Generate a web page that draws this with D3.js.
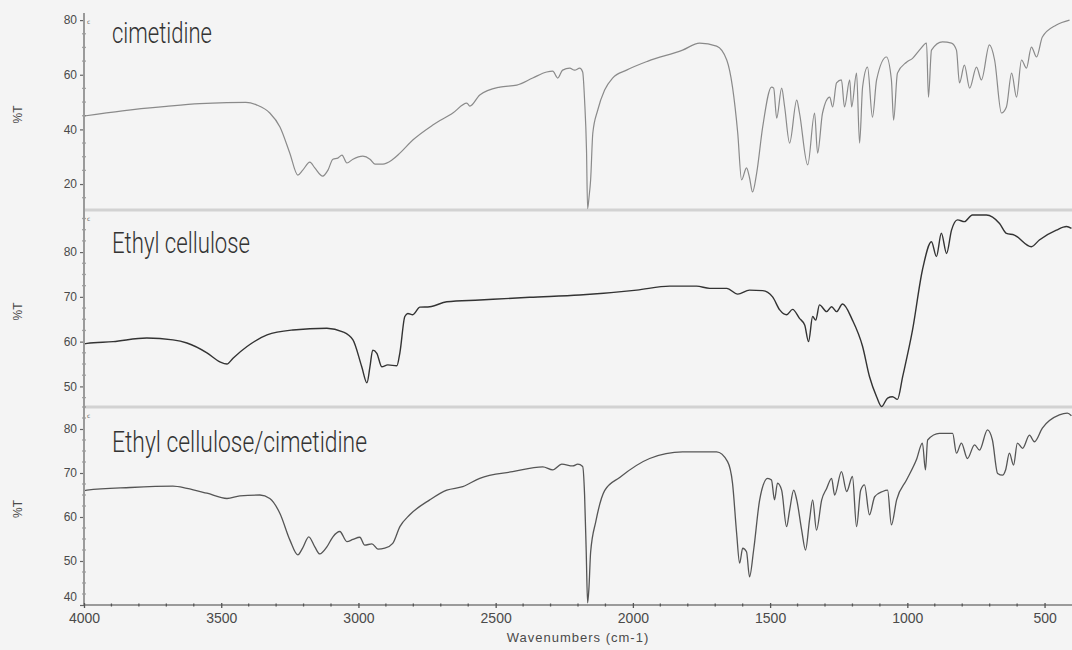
<!DOCTYPE html>
<html>
<head>
<meta charset="utf-8">
<script src="https://cdn.jsdelivr.net/npm/d3@7"></script>
<style>
  html, body { margin: 0; padding: 0; background: #f4f4f4; }
  svg { display: block; }
</style>
</head>
<body>
<svg id="chart" width="1072" height="650"></svg>
<script>
// ---- data -------------------------------------------------------------
const panelTitles = ["cimetidine", "Ethyl cellulose", "Ethyl cellulose/cimetidine"];
const xTickValues = [4000, 3500, 3000, 2500, 2000, 1500, 1000, 500];
const yTickValues = [[20, 40, 60, 80], [50, 60, 70, 80], [40, 50, 60, 70, 80]];
const yMinorSteps = [5, 2.5, 2.5];
const yDomains = [[10.5, 82.6], [45.4, 89.4], [40, 85]];
const xLabel = "Wavenumbers (cm-1)";
const yLabel = "%T";

// [wavenumber (cm-1), transmittance (%)]
const cimetidine = [
  [4000,44.9],[3860,46.8],[3700,48.4],[3578,49.4],[3480,49.8],[3410,49.9],[3370,48.9],[3323,46.0],
  [3286,40.9],[3250,31.3],[3221,23.3],[3203,25.1],[3177,28.0],[3159,25.9],[3130,22.9],[3111,25.1],
  [3093,29.1],[3075,29.5],[3060,30.6],[3042,27.7],[3020,29.1],[2984,30.2],[2958,29.1],[2940,27.3],
  [2911,27.3],[2878,28.8],[2849,31.3],[2802,36.1],[2729,41.6],[2656,46.0],[2605,49.6],[2594,48.5],
  [2558,52.6],[2485,55.5],[2423,56.2],[2365,58.8],[2314,61.0],[2292,61.3],[2274,58.8],[2256,61.7],
  [2230,62.4],[2212,61.7],[2194,62.4],[2183,61.0],[2176,50.7],[2169,32.4],[2165,11.0],[2160,15.0],
  [2154,21.5],[2146,38.7],[2128,47.1],[2103,54.4],[2074,58.8],[2023,61.7],[1945,65.0],[1819,69.0],
  [1757,71.6],[1695,70.5],[1658,65.4],[1637,55.5],[1618,38.7],[1604,21.5],[1586,25.9],[1575,22.3],
  [1564,17.1],[1549,24.0],[1527,40.9],[1495,55.5],[1487,55.1],[1476,44.1],[1458,55.1],[1447,48.2],
  [1429,35.0],[1403,50.7],[1393,46.0],[1363,27.0],[1338,46.0],[1327,31.3],[1309,46.0],[1283,51.8],
  [1272,48.2],[1258,57.0],[1240,58.1],[1229,48.2],[1210,58.1],[1203,48.2],[1185,60.6],[1174,35.0],
  [1163,55.5],[1145,62.8],[1127,44.5],[1112,58.1],[1076,66.5],[1058,58.1],[1050,43.4],[1036,60.6],
  [1003,64.6],[981,66.0],[956,69.0],[930,71.6],[923,51.8],[912,69.0],[872,72.0],[839,71.6],
  [821,69.0],[810,57.0],[792,63.5],[773,55.1],[748,62.8],[730,58.1],[701,70.9],[682,65.4],
  [657,46.0],[639,48.2],[620,60.6],[602,51.8],[584,65.4],[566,62.4],[548,70.1],[529,66.5],
  [508,73.8],[457,78.2],[409,80.0]
];

const ethylCellulose = [
  [4000,59.5],[3989,59.6],[3894,60.0],[3771,60.8],[3676,60.4],[3625,59.7],[3552,57.5],[3505,55.5],
  [3479,55.0],[3457,56.3],[3406,58.9],[3333,61.5],[3239,62.6],[3115,63.0],[3057,62.2],[3020,60.4],
  [2988,54.4],[2969,50.8],[2958,54.4],[2948,58.1],[2933,57.4],[2915,54.4],[2893,54.8],[2860,54.6],
  [2849,57.5],[2831,65.6],[2820,66.3],[2802,66.0],[2776,67.7],[2740,67.8],[2678,68.9],[2558,69.3],
  [2376,69.9],[2194,70.4],[1986,71.5],[1866,72.4],[1768,72.4],[1720,71.9],[1658,71.9],[1618,70.6],
  [1575,71.5],[1527,71.4],[1491,70.0],[1465,67.1],[1440,66.0],[1418,67.2],[1393,65.2],[1374,63.7],
  [1360,60.0],[1345,65.6],[1334,64.8],[1320,68.2],[1294,66.7],[1276,67.8],[1258,66.7],[1236,68.4],
  [1200,64.8],[1163,58.9],[1138,52.2],[1112,47.7],[1094,45.5],[1072,47.4],[1054,47.7],[1036,47.1],
  [1017,52.2],[981,62.6],[945,76.0],[912,82.3],[894,79.0],[876,84.2],[857,79.7],[839,84.9],
  [817,87.2],[792,86.8],[763,88.3],[712,88.3],[664,86.4],[639,84.2],[610,83.8],[548,81.2],
  [519,82.7],[457,84.9],[420,85.7],[402,85.3]
];

const blend = [
  [4000,66.0],[3989,66.1],[3832,66.7],[3676,67.0],[3625,66.5],[3552,65.4],[3479,64.2],[3432,64.8],
  [3359,65.0],[3323,64.2],[3286,60.8],[3250,54.8],[3221,51.4],[3203,53.0],[3181,55.5],[3159,53.2],
  [3141,51.6],[3115,53.2],[3093,55.5],[3068,56.7],[3042,54.4],[3020,54.9],[2995,55.4],[2977,53.6],
  [2951,53.9],[2929,52.7],[2904,52.9],[2875,54.0],[2849,57.8],[2813,60.5],[2740,63.9],[2678,66.1],
  [2620,66.9],[2558,68.8],[2438,70.3],[2328,71.4],[2292,70.7],[2259,72.0],[2219,71.6],[2201,72.0],
  [2183,71.5],[2176,65.0],[2170,52.0],[2165,40.5],[2160,44.0],[2154,52.0],[2135,59.0],[2103,66.0],
  [2048,69.0],[1939,73.3],[1819,74.8],[1695,74.8],[1655,72.6],[1637,67.7],[1622,56.3],[1611,49.5],
  [1600,52.9],[1586,52.1],[1575,46.4],[1560,52.5],[1538,63.9],[1509,68.8],[1495,68.4],[1484,63.9],
  [1473,67.7],[1458,66.1],[1440,57.8],[1429,61.5],[1414,66.1],[1403,63.9],[1385,57.0],[1371,52.5],
  [1356,59.5],[1345,63.9],[1331,57.0],[1312,63.9],[1294,66.5],[1276,68.8],[1265,65.0],[1240,70.3],
  [1221,65.8],[1200,69.2],[1185,57.8],[1170,66.1],[1156,67.3],[1138,60.5],[1119,64.6],[1090,65.8],
  [1072,66.1],[1058,58.2],[1039,63.9],[1003,68.4],[967,73.0],[945,76.8],[934,70.7],[926,77.5],
  [883,79.0],[835,79.0],[821,74.5],[803,76.8],[781,73.3],[755,76.4],[737,75.2],[708,79.8],
  [690,77.5],[671,69.9],[653,69.5],[642,70.7],[628,74.5],[613,71.8],[599,76.8],[580,75.6],
  [555,78.6],[537,77.1],[508,80.2],[446,83.2],[417,83.6],[402,83.0]
];

const spectra = [cimetidine, ethylCellulose, blend];

// ---- layout & styles --------------------------------------------------
const plotLeft = 84, plotRight = 1072;
const bands = [[13, 210], [210, 407], [407, 605]];
const lineColors = ["#8a8a8a", "#333333", "#555555"];
const lineWidths = [1.2, 1.4, 1.3];
const titleWidths = [100, 138, 255];
const titleBaselines = [43, 253, 452];
const axisColor = "#9a9a9a";
const textColor = "#4a4a4a";

const svg = d3.select("#chart");
svg.append("rect").attr("width", 1072).attr("height", 650).attr("fill", "#f4f4f4");

const x = d3.scaleLinear().domain([4000, 400]).range([plotLeft, plotRight]);

const defs = svg.append("defs");

// panel separators
[bands[0][1], bands[1][1]].forEach(yy => {
  svg.append("line")
    .attr("x1", plotLeft).attr("x2", plotRight)
    .attr("y1", yy).attr("y2", yy)
    .attr("stroke", "#d2d2d2").attr("stroke-width", 3);
});

spectra.forEach((data, i) => {
  const [top, bottom] = bands[i];
  const y = d3.scaleLinear().domain(yDomains[i]).range([bottom, top]);

  defs.append("clipPath").attr("id", "clip" + i)
    .append("rect")
    .attr("x", plotLeft).attr("y", top - 1)
    .attr("width", plotRight - plotLeft).attr("height", bottom - top + 2);

  const line = d3.line()
    .x(d => x(d[0]))
    .y(d => y(d[1]))
    .curve(d3.curveMonotoneX);

  svg.append("path")
    .datum(data)
    .attr("clip-path", `url(#clip${i})`)
    .attr("fill", "none")
    .attr("stroke", lineColors[i])
    .attr("stroke-width", lineWidths[i])
    .attr("stroke-linejoin", "round")
    .attr("d", line);

  // y axis: labelled ticks
  const axis = svg.append("g")
    .attr("transform", `translate(${plotLeft},0)`)
    .call(d3.axisLeft(y).tickValues(yTickValues[i]).tickSize(4).tickPadding(3).tickFormat(d3.format("d")));
  axis.select(".domain").remove();
  axis.selectAll(".tick line").attr("stroke", "#666").attr("stroke-width", 1.2);
  axis.selectAll(".tick text")
    .attr("fill", textColor)
    .style("font-family", "'Liberation Sans', Arial, sans-serif")
    .style("font-size", "12px");
  // the lowest label sits just above the wavenumber axis
  axis.selectAll(".tick text")
    .filter(d => y(d) > bottom - 3)
    .attr("dy", "-0.35em");

  // y axis: minor ticks
  const [d0, d1] = yDomains[i];
  const step = yMinorSteps[i];
  const minor = d3.range(Math.ceil(d0 / step) * step, d1 + 0.001, step)
    .filter(v => !yTickValues[i].includes(v));
  svg.append("g").selectAll("line").data(minor).join("line")
    .attr("x1", plotLeft - 1.5).attr("x2", plotLeft + 1.5)
    .attr("y1", d => y(d)).attr("y2", d => y(d))
    .attr("stroke", "#555").attr("stroke-width", 1.3);

  // axis title for the panel
  const mid = (top + bottom) / 2 + 3;
  svg.append("text")
    .attr("transform", `translate(22,${mid}) rotate(-90)`)
    .attr("text-anchor", "middle")
    .attr("fill", textColor)
    .style("font-family", "'Liberation Sans', Arial, sans-serif")
    .style("font-size", "12px")
    .text(yLabel);

  // small axis-break mark at the top of each panel
  svg.append("text")
    .attr("x", plotLeft + 3).attr("y", top + 11)
    .attr("fill", "#666")
    .style("font-family", "'DejaVu Sans', sans-serif")
    .style("font-size", "6px")
    .text("c");

  // panel title
  svg.append("text")
    .attr("x", 112).attr("y", titleBaselines[i])
    .attr("textLength", titleWidths[i])
    .attr("lengthAdjust", "spacingAndGlyphs")
    .attr("fill", "#333")
    .style("font-family", "Roboto, sans-serif")
    .style("font-weight", 300)
    .style("font-size", "29px")
    .text(panelTitles[i]);
});

// y axis line
svg.append("line")
  .attr("x1", plotLeft).attr("x2", plotLeft)
  .attr("y1", bands[0][0]).attr("y2", bands[2][1])
  .attr("stroke", axisColor).attr("stroke-width", 2);

// x axis
const baseY = bands[2][1];
svg.append("line")
  .attr("x1", plotLeft).attr("x2", plotRight)
  .attr("y1", baseY).attr("y2", baseY)
  .attr("stroke", axisColor).attr("stroke-width", 2);

const xAxis = svg.append("g")
  .attr("transform", `translate(0,${baseY})`)
  .call(d3.axisBottom(x).tickValues(xTickValues).tickSize(3).tickPadding(5).tickFormat(d3.format("d")));
xAxis.select(".domain").remove();
xAxis.selectAll(".tick line").attr("stroke", "#555").attr("stroke-width", 1.3).attr("y1", -2);
xAxis.selectAll(".tick text")
  .attr("fill", textColor)
  .style("font-family", "'Liberation Sans', Arial, sans-serif")
  .style("font-size", "14px");

const xMinor = d3.range(4000, 400, -100).filter(v => !xTickValues.includes(v));
svg.append("g").selectAll("line").data(xMinor).join("line")
  .attr("x1", d => x(d)).attr("x2", d => x(d))
  .attr("y1", baseY - 1.5).attr("y2", baseY + 1.5)
  .attr("stroke", "#555").attr("stroke-width", 1.3);

svg.append("text")
  .attr("x", (plotLeft + plotRight) / 2).attr("y", 642)
  .attr("text-anchor", "middle")
  .attr("fill", textColor)
  .style("font-family", "'Liberation Sans', Arial, sans-serif")
  .style("font-size", "13px")
  .style("letter-spacing", "1px")
  .text(xLabel);
</script>
</body>
</html>
